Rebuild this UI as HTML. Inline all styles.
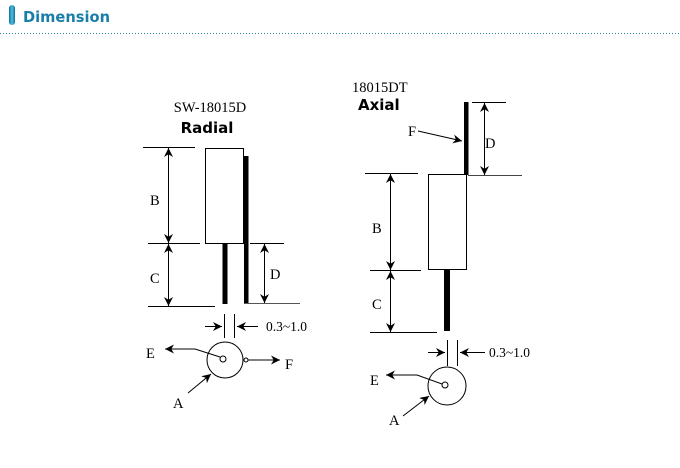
<!DOCTYPE html>
<html><head><meta charset="utf-8"><style>
body{margin:0;background:#fff;width:680px;height:468px;overflow:hidden}
svg{display:block}
</style></head><body>
<svg width="680" height="468" viewBox="0 0 680 468" xmlns="http://www.w3.org/2000/svg">
<defs>
<marker id="a" viewBox="0 0 10 10" refX="10" refY="5" markerWidth="9" markerHeight="9" markerUnits="userSpaceOnUse" orient="auto-start-reverse"><path d="M0,0 L10,5 L0,10 L3,5z" fill="#000"/></marker>
<linearGradient id="g" x1="0" x2="1"><stop offset="0" stop-color="#0b6f96"/><stop offset="0.5" stop-color="#4fc0e0"/><stop offset="1" stop-color="#0b6f96"/></linearGradient>
</defs>
<rect x="9" y="5" width="6" height="20" rx="3" fill="url(#g)"/>
<text x="23" y="22" font-family="DejaVu Sans, Liberation Sans, sans-serif" font-weight="bold" font-size="15" fill="#1a7fa8" textLength="87" lengthAdjust="spacingAndGlyphs">Dimension</text>
<line x1="0" y1="33.5" x2="680" y2="33.5" stroke="#2a8aa0" stroke-width="1" stroke-dasharray="1,2"/>

<g font-family="Liberation Serif, serif" font-size="14.5" fill="#000">
<!-- Radial -->
<text x="210" y="112" text-anchor="middle">SW-18015D</text>
<text x="207" y="133" text-anchor="middle" font-family="DejaVu Sans, sans-serif" font-weight="bold" font-size="15">Radial</text>
<rect x="205.5" y="148.5" width="38" height="95" fill="none" stroke="#000"/>
<rect x="244" y="156" width="4.5" height="148" fill="#000"/>
<rect x="222.5" y="244" width="5" height="60" fill="#000"/>
<g stroke="#000" stroke-width="1" fill="none">
<line x1="143" y1="147.5" x2="195" y2="147.5"/>
<line x1="148" y1="243.5" x2="200" y2="243.5"/>
<line x1="148" y1="306.5" x2="215" y2="306.5"/>
<line x1="168.5" y1="148" x2="168.5" y2="243" marker-start="url(#a)" marker-end="url(#a)"/>
<line x1="168.5" y1="244" x2="168.5" y2="306" marker-start="url(#a)" marker-end="url(#a)"/>
<line x1="250" y1="243.5" x2="284" y2="243.5"/>
<line x1="244" y1="303.5" x2="300" y2="303.5" stroke="#555"/>
<line x1="264.5" y1="244" x2="264.5" y2="303" marker-start="url(#a)" marker-end="url(#a)"/>
<line x1="224.5" y1="314" x2="224.5" y2="338"/>
<line x1="234.5" y1="314" x2="234.5" y2="338"/>
<line x1="205" y1="326.5" x2="222" y2="326.5" marker-end="url(#a)"/>
<line x1="258" y1="326.5" x2="237" y2="326.5" marker-end="url(#a)"/>
<circle cx="225" cy="360" r="18"/>
<circle cx="223" cy="359" r="3"/>
<polyline points="220,357 195,349 165,349" marker-end="url(#a)"/>
<circle cx="246" cy="360" r="2"/>
<line x1="248" y1="360" x2="280" y2="360" marker-end="url(#a)"/>
<line x1="188" y1="393" x2="211" y2="374" marker-end="url(#a)"/>
</g>
<text x="150" y="205">B</text>
<text x="150" y="283">C</text>
<text x="270" y="279">D</text>
<text x="266" y="331" font-size="13.5">0.3~1.0</text>
<text x="146" y="358">E</text>
<text x="285" y="369">F</text>
<text x="173" y="408">A</text>

<!-- Axial -->
<text x="352" y="92">18015DT</text>
<text x="358" y="110" font-family="DejaVu Sans, sans-serif" font-weight="bold" font-size="15">Axial</text>
<rect x="464" y="102" width="4.5" height="73" fill="#000"/>
<rect x="428.5" y="174.5" width="38" height="95" fill="none" stroke="#000"/>
<rect x="444" y="270" width="6" height="61" fill="#000"/>
<g stroke="#000" stroke-width="1" fill="none">
<line x1="472" y1="102.5" x2="506" y2="102.5"/>
<line x1="468" y1="175.5" x2="522" y2="175.5" stroke="#444"/>
<line x1="484.5" y1="103" x2="484.5" y2="175" marker-start="url(#a)" marker-end="url(#a)"/>
<line x1="418" y1="131" x2="462" y2="141" marker-end="url(#a)"/>
<line x1="365" y1="173.5" x2="418" y2="173.5"/>
<line x1="370" y1="270.5" x2="421" y2="270.5"/>
<line x1="370" y1="332.5" x2="437" y2="332.5"/>
<line x1="390.5" y1="174" x2="390.5" y2="270" marker-start="url(#a)" marker-end="url(#a)"/>
<line x1="390.5" y1="271" x2="390.5" y2="332" marker-start="url(#a)" marker-end="url(#a)"/>
<line x1="447.5" y1="340" x2="447.5" y2="366"/>
<line x1="457.5" y1="340" x2="457.5" y2="366"/>
<line x1="428" y1="352.5" x2="445" y2="352.5" marker-end="url(#a)"/>
<line x1="485" y1="352.5" x2="460" y2="352.5" marker-end="url(#a)"/>
<circle cx="447" cy="386" r="19"/>
<circle cx="445" cy="385" r="3"/>
<polyline points="442,384 417,375 386,375" marker-end="url(#a)"/>
<line x1="403" y1="416" x2="429" y2="396" marker-end="url(#a)"/>
</g>
<text x="408" y="136">F</text>
<text x="485" y="148">D</text>
<text x="372" y="233">B</text>
<text x="372" y="309">C</text>
<text x="489" y="357" font-size="13.5">0.3~1.0</text>
<text x="370" y="385">E</text>
<text x="389" y="425">A</text>
</g>
</svg>
</body></html>
